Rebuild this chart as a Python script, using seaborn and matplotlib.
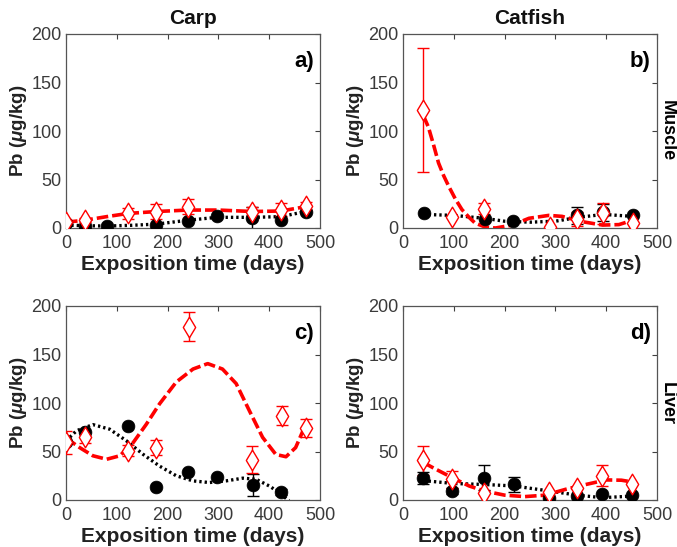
import numpy as np
import pandas as pd
import matplotlib
matplotlib.use("Agg")
import matplotlib.pyplot as plt
import seaborn as sns

sns.set_theme(style="white")
plt.rcParams['font.family'] = ['Liberation Sans', 'DejaVu Sans']
plt.rcParams['mathtext.fontset'] = 'custom'
plt.rcParams['mathtext.it'] = 'Liberation Sans:italic:bold'
plt.rcParams['mathtext.rm'] = 'Liberation Sans:bold'

# ---------------- data ----------------
# Panel a) Carp - Muscle
a_red_x = [0, 37, 122, 178, 240, 367, 423, 472]
a_red_y = [5.8, 8, 15, 17, 22, 17, 19, 23]
a_red_e = [2, 2, 6, 8, 7.5, 5, 6.5, 4]
a_blk_x = [0, 37, 80, 178, 240, 297, 367, 423, 472]
a_blk_y = [5, 2.4, 2.4, 3, 7.5, 12.4, 10, 8, 17]
a_blk_e = [0, 0, 0, 0, 0, 0, 12, 0, 0]
a_rfit_x = [0, 37, 80, 122, 178, 240, 300, 367, 423, 472]
a_rfit_y = [6, 8, 11.7, 15, 17, 18.5, 18.5, 17, 17.5, 22]
a_bfit_x = [0, 37, 80, 130, 178, 240, 297, 367, 423, 472]
a_bfit_y = [3, 2.4, 2, 2.8, 4, 8, 11, 11, 11.7, 17]

# Panel b) Catfish - Muscle
b_red_x = [40, 97, 160, 289, 343, 393, 452]
b_red_y = [122, 11, 20, 1.5, 9, 15, 5.5]
b_red_e = [64, 0, 6, 0, 7, 11, 0]
b_blk_x = [42, 161, 216, 343, 393, 452]
b_blk_y = [15, 9, 7, 13, 16, 13]
b_blk_e = [0, 0, 0, 9, 9, 0]
b_rfit_x = [40, 50, 60, 70, 80, 90, 103, 116, 130, 142, 162, 182, 215, 248, 287, 313, 353, 393, 425, 452]
b_rfit_y = [116, 104, 86, 67, 54, 43, 30, 19, 11, 5, 1, 0, 3, 10, 13, 12, 6.5, 3, 3.5, 8]
b_bfit_x = [40, 100, 160, 200, 250, 300, 345, 395, 452]
b_bfit_y = [14, 13, 10, 7, 6, 7, 11, 14, 12]

# Panel c) Carp - Liver
c_red_x = [0, 37, 122, 178, 243, 367, 425, 472]
c_red_y = [59.4, 64.6, 51, 54, 178.6, 41.5, 87, 74]
c_red_e = [12, 6, 6, 8, 15, 14, 9.5, 9.5]
c_blk_x = [0, 37, 122, 178, 241, 297, 369, 423]
c_blk_y = [60, 70, 76, 13.8, 29, 24, 15.5, 8.6]
c_blk_e = [0, 0, 0, 0, 0, 0, 11, 3]
c_rfit_x = [0, 27, 53, 80, 106, 132, 158, 184, 217, 250, 279, 308, 335, 361, 387, 413, 433, 452, 472]
c_rfit_y = [64, 54, 45.6, 42, 45.6, 59, 78, 99, 121.6, 135, 140.6, 135, 120, 92, 64.6, 47, 44.6, 54, 78]
c_bfit_x = [0, 21, 53, 86, 119, 152, 184, 217, 250, 282, 315, 348, 374, 400, 420, 439]
c_bfit_y = [61, 71.5, 77.7, 73, 61, 47, 35, 25, 19.7, 18, 19.7, 22.5, 21.4, 14.5, 7.6, -1]

# Panel d) Catfish - Liver
d_red_x = [40, 97, 160, 288, 343, 392, 451]
d_red_y = [41, 21.4, 7.6, 8.6, 12.8, 25, 17]
d_red_e = [15, 9, 0, 0, 0, 11, 0]
d_blk_x = [40, 97, 160, 218, 288, 343, 392, 451]
d_blk_y = [22.5, 9.3, 23, 16, 2, 4, 6, 5]
d_blk_e = [6, 3, 13, 8, 0, 0, 0, 0]
d_rfit_x = [40, 60, 97, 130, 160, 200, 240, 280, 320, 360, 400, 430, 451]
d_rfit_y = [38.7, 33, 23, 14.5, 9.3, 5, 3.5, 5, 11, 16, 20.7, 20.4, 18.6]
d_bfit_x = [40, 100, 160, 218, 288, 343, 392, 451]
d_bfit_y = [20, 17, 16, 14.5, 9.3, 5, 2.4, 4]

titles = ["Carp", "Catfish"]
rows = ["Muscle", "Liver"]
letters = ["a)", "b)", "c)", "d)"]
x_ticks = [0, 100, 200, 300, 400, 500]
y_ticks = [0, 50, 100, 150, 200]

panels = [
    (a_red_x, a_red_y, a_red_e, a_blk_x, a_blk_y, a_blk_e, a_rfit_x, a_rfit_y, a_bfit_x, a_bfit_y),
    (b_red_x, b_red_y, b_red_e, b_blk_x, b_blk_y, b_blk_e, b_rfit_x, b_rfit_y, b_bfit_x, b_bfit_y),
    (c_red_x, c_red_y, c_red_e, c_blk_x, c_blk_y, c_blk_e, c_rfit_x, c_rfit_y, c_bfit_x, c_bfit_y),
    (d_red_x, d_red_y, d_red_e, d_blk_x, d_blk_y, d_blk_e, d_rfit_x, d_rfit_y, d_bfit_x, d_bfit_y),
]

W, H = 677, 547
fig = plt.figure(figsize=(W / 100, H / 100), dpi=100)
lefts = [66, 403]
tops = [34, 306]
aw, ah = 254, 194
gray = '#404040'

for i, p in enumerate(panels):
    r, c = divmod(i, 2)
    ax = fig.add_axes([lefts[c] / W, 1 - (tops[r] + ah) / H, aw / W, ah / H])
    rx, ry, re_, bx, by, be, rfx, rfy, bfx, bfy = p

    bfit = pd.DataFrame({"x": bfx, "y": bfy})
    rfit = pd.DataFrame({"x": rfx, "y": rfy})
    sns.lineplot(data=bfit, x="x", y="y", ax=ax, color="black", lw=2.4,
                 linestyle=(0, (0.7, 0.9)), sort=False, zorder=2)
    sns.lineplot(data=rfit, x="x", y="y", ax=ax, color="red", lw=2.6,
                 linestyle=(0, (3.2, 1.1)), sort=False, zorder=3)

    be_arr = np.array(be, dtype=float)
    m = be_arr > 0
    ax.errorbar(np.array(bx)[m], np.array(by)[m], yerr=be_arr[m], fmt='none',
                ecolor='black', elinewidth=1, capsize=4.5, capthick=1, zorder=4)
    re_arr = np.array(re_, dtype=float)
    m = re_arr > 0
    ax.errorbar(np.array(rx)[m], np.array(ry)[m], yerr=re_arr[m], fmt='none',
                ecolor='red', elinewidth=1, capsize=4.5, capthick=1, zorder=4)

    bpts = pd.DataFrame({"x": bx, "y": by})
    rpts = pd.DataFrame({"x": rx, "y": ry})
    sns.scatterplot(data=bpts, x="x", y="y", ax=ax, color="black", marker="o",
                    s=85, edgecolor="black", linewidth=0.5, zorder=5)
    sns.scatterplot(data=rpts, x="x", y="y", ax=ax, marker="d", s=110,
                    facecolor="white", edgecolor="red", linewidth=1.0, zorder=6)

    ax.set_xlim(0, 500)
    ax.set_ylim(0, 200)
    ax.set_xticks(x_ticks)
    ax.set_yticks(y_ticks)
    ax.tick_params(direction='in', top=True, right=True, length=3.5, width=0.8,
                   colors=gray, labelsize=13, pad=5)
    ax.tick_params(axis='both', labelcolor='#3a3a3a')
    ax.tick_params(axis='y', pad=3)
    for s in ax.spines.values():
        s.set_color('#555555')
        s.set_linewidth(0.9)
    ax.set_xlabel("Exposition time (days)", fontsize=15, fontweight='bold',
                  color='#222222', labelpad=2)
    ax.set_ylabel(r"Pb ($\mu$g/kg)", fontsize=13.5, fontweight='bold',
                  color='#222222', labelpad=2)
    ax.text(0.975, 0.86, letters[i], transform=ax.transAxes, ha='right', va='center',
            fontsize=16, fontweight='bold', color='black')
    if r == 0:
        ax.text(0.5, 1.03, titles[c], transform=ax.transAxes, ha='center', va='bottom',
                fontsize=15, fontweight='bold', color='#111111')
    if c == 1:
        ax.text(1.04, 0.5, rows[r], transform=ax.transAxes, rotation=-90,
                ha='center', va='center', fontsize=13, fontweight='bold', color='black')

fig.savefig("out.png", dpi=100)
